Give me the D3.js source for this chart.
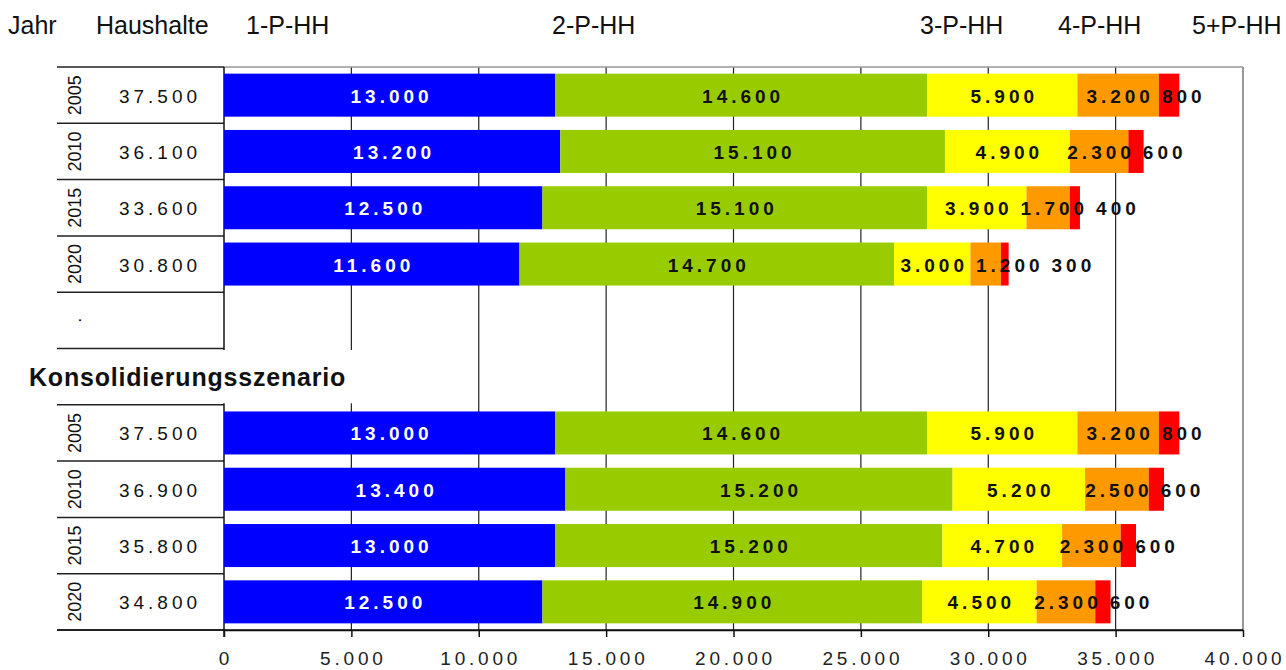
<!DOCTYPE html>
<html>
<head>
<meta charset="utf-8">
<script src="https://cdn.jsdelivr.net/npm/d3@7/dist/d3.min.js"></script>
<style>
  html, body { margin: 0; padding: 0; background: #fff; }
  svg { display: block; font-family: "Liberation Sans", Arial, sans-serif; }
</style>
</head>
<body>
<svg id="chart" width="1286" height="670"></svg>
<script>
// ---------------- data ----------------
const years = ["2005", "2010", "2015", "2020"];
const seriesNames = ["1-P-HH", "2-P-HH", "3-P-HH", "4-P-HH", "5+P-HH"];
const seriesColors = ["#0000FF", "#99CC00", "#FFFF00", "#FF9900", "#FF0000"];
const seriesTextColors = ["#FFFFFF", "#111111", "#111111", "#111111", "#111111"];

const totalBasis = [37500, 36100, 33600, 30800];
const hh1Basis = [13000, 13200, 12500, 11600];
const hh2Basis = [14600, 15100, 15100, 14700];
const hh3Basis = [5900, 4900, 3900, 3000];
const hh4Basis = [3200, 2300, 1700, 1200];
const hh5Basis = [800, 600, 400, 300];

const totalKons = [37500, 36900, 35800, 34800];
const hh1Kons = [13000, 13400, 13000, 12500];
const hh2Kons = [14600, 15200, 15200, 14900];
const hh3Kons = [5900, 5200, 4700, 4500];
const hh4Kons = [3200, 2500, 2300, 2300];
const hh5Kons = [800, 600, 600, 600];

const xTicks = [0, 5000, 10000, 15000, 20000, 25000, 30000, 35000, 40000];
const headerLabels = ["Jahr", "Haushalte"];
const scenarioLabel = "Konsolidierungsszenario";
const spacerLabel = ".";

// ---------------- build rows ----------------
const basisSeries = [hh1Basis, hh2Basis, hh3Basis, hh4Basis, hh5Basis];
const konsSeries = [hh1Kons, hh2Kons, hh3Kons, hh4Kons, hh5Kons];
const rows = [];
years.forEach((y, i) => rows.push({ key: "b" + i, year: y, total: totalBasis[i], vals: basisSeries.map(s => s[i]) }));
rows.push({ key: "spacer", year: spacerLabel, total: null, vals: null });
rows.push({ key: "scenario", year: "", total: null, vals: null, scenario: true });
years.forEach((y, i) => rows.push({ key: "k" + i, year: y, total: totalKons[i], vals: konsSeries.map(s => s[i]) }));

// ---------------- layout ----------------
const svg = d3.select("#chart");
const plotL = 224, plotR = 1243, plotT = 67, plotB = 630;
const tableL = 57;

const x = d3.scaleLinear().domain([0, 40000]).range([plotL, plotR]);
const y = d3.scaleBand().domain(rows.map(r => r.key)).range([plotT, plotB])
  .paddingInner(0.236).paddingOuter(0.118);
const step = y.step();
const rowTop = k => y(k) - y.paddingOuter() * step;
const rowMid = k => y(k) + y.bandwidth() / 2;

const de = d3.formatLocale({ decimal: ",", thousands: ".", grouping: [3], currency: ["", " €"] });
const fmt = de.format(",");

// ---------------- headers ----------------
const headerX = [8, 96];
svg.append("g").selectAll("text").data(headerLabels).join("text")
  .attr("x", (d, i) => headerX[i]).attr("y", 34)
  .attr("font-size", 25).attr("fill", "#111").text(d => d);
const seriesHeaderX = [246, 552, 920, 1058, 1192];
svg.append("g").selectAll("text").data(seriesNames).join("text")
  .attr("x", (d, i) => seriesHeaderX[i]).attr("y", 34)
  .attr("font-size", 25).attr("fill", "#111").text(d => d);

// ---------------- gridlines ----------------
svg.append("g").selectAll("line").data(xTicks.filter(t => t > 0 && t < 40000)).join("line")
  .attr("x1", d => x(d)).attr("x2", d => x(d))
  .attr("y1", plotT).attr("y2", plotB)
  .attr("stroke", "#222").attr("stroke-width", 1.2);

// frame (top + right) grey
svg.append("line").attr("x1", plotL).attr("x2", plotR).attr("y1", plotT).attr("y2", plotT)
  .attr("stroke", "#999").attr("stroke-width", 1.5);
svg.append("line").attr("x1", plotR).attr("x2", plotR).attr("y1", plotT).attr("y2", plotB)
  .attr("stroke", "#999").attr("stroke-width", 2);

// ---------------- table lines ----------------
const boundaries = rows.map(r => rowTop(r.key));
boundaries.push(plotB);
svg.append("g").selectAll("line").data(boundaries).join("line")
  .attr("x1", tableL).attr("x2", plotL)
  .attr("y1", d => d).attr("y2", d => d)
  .attr("stroke", "#222").attr("stroke-width", 1.5);

// y axis line
svg.append("line").attr("x1", plotL).attr("x2", plotL).attr("y1", plotT).attr("y2", plotB + 7)
  .attr("stroke", "#111").attr("stroke-width", 1.5);

// ---------------- x axis ----------------
const xAxis = d3.axisBottom(x).tickValues(xTicks).tickSize(7).tickSizeOuter(0).tickFormat(fmt);
const ax = svg.append("g").attr("transform", `translate(0,${plotB})`).call(xAxis);
ax.select(".domain").attr("stroke", "#111").attr("stroke-width", 1.5);
ax.selectAll(".tick line").attr("stroke", "#111").attr("stroke-width", 1.5);
ax.selectAll(".tick text")
  .attr("font-family", "Liberation Sans, Arial, sans-serif")
  .attr("font-size", 19).attr("fill", "#222")
  .attr("letter-spacing", 3.8)
  .attr("y", 35).attr("dy", 0).attr("dx", 1.5);
// extend axis baseline to table
svg.append("line").attr("x1", tableL).attr("x2", plotR).attr("y1", plotB).attr("y2", plotB)
  .attr("stroke", "#111").attr("stroke-width", 1.5);

// ---------------- bars ----------------
const dataRows = rows.filter(r => r.vals);
const segs = [];
dataRows.forEach(r => {
  let acc = 0;
  r.vals.forEach((v, i) => {
    segs.push({ row: r.key, i, x0: acc, x1: acc + v, v });
    acc += v;
  });
});

svg.append("g").selectAll("rect").data(segs).join("rect")
  .attr("x", d => x(d.x0)).attr("width", d => x(d.x1) - x(d.x0))
  .attr("y", d => y(d.row)).attr("height", y.bandwidth())
  .attr("fill", d => seriesColors[d.i]);

// bar labels
const labelG = svg.append("g");
const labels = labelG.selectAll("text").data(segs).join("text")
  .attr("x", d => x((d.x0 + d.x1) / 2))
  .attr("y", d => rowMid(d.row) + 7.5)
  .attr("text-anchor", "middle")
  .attr("font-size", 19).attr("font-weight", "bold")
  .attr("letter-spacing", 4)
  .attr("dx", 2)
  .attr("fill", d => seriesTextColors[d.i])
  .text(d => fmt(d.v));

// collision avoidance: push labels right when overlapping previous one
const minGap = 12;
dataRows.forEach(r => {
  let prevRight = -Infinity;
  labels.filter(d => d.row === r.key).each(function (d) {
    const bb = this.getBBox();
    let left = bb.x;
    if (left < prevRight + minGap) {
      const shift = prevRight + minGap - left;
      d3.select(this).attr("x", +d3.select(this).attr("x") + shift);
      left += shift;
    }
    prevRight = left + bb.width - 4;
  });
});

// ---------------- left table text ----------------
const yearG = svg.append("g");
rows.filter(r => !r.scenario).forEach(r => {
  yearG.append("text")
    .attr("transform", `translate(81,${rowMid(r.key)}) rotate(-90)`)
    .attr("text-anchor", "middle")
    .attr("font-size", 18).attr("fill", "#111")
    .text(r.year);
});
svg.append("g").selectAll("text").data(dataRows).join("text")
  .attr("x", 158).attr("y", d => rowMid(d.key) + 7.5)
  .attr("text-anchor", "middle")
  .attr("font-size", 19).attr("letter-spacing", 4).attr("dx", 2)
  .attr("fill", "#111")
  .text(d => fmt(d.total));

// ---------------- scenario label ----------------
const scenRow = rows.find(r => r.scenario);
const sTop = rowTop(scenRow.key);
svg.append("rect")
  .attr("x", 24).attr("y", sTop + 1.5).attr("width", 330).attr("height", step - 3)
  .attr("fill", "#fff");
svg.append("text")
  .attr("x", 29).attr("y", rowMid(scenRow.key) + 9)
  .attr("font-size", 25).attr("font-weight", "bold").attr("letter-spacing", 0.8)
  .attr("fill", "#111")
  .text(scenarioLabel);
</script>
</body>
</html>
